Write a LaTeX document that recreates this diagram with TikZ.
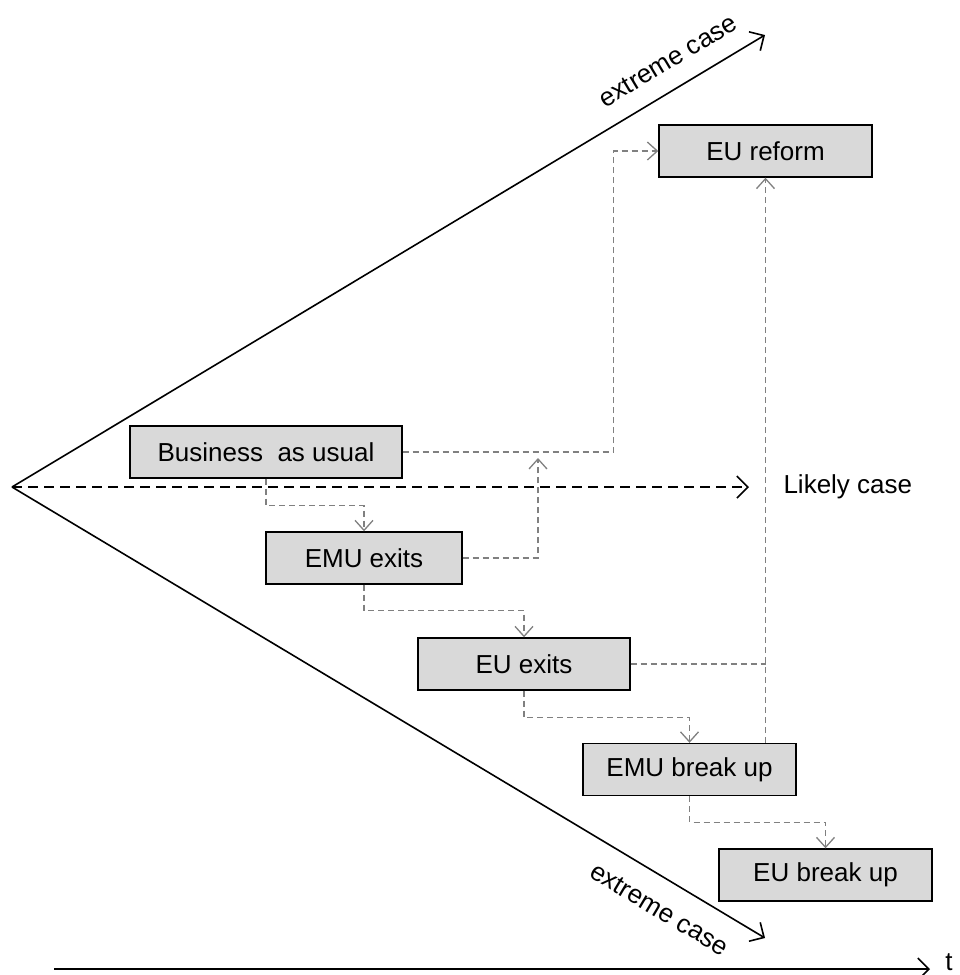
\documentclass[tikz,border=0pt]{standalone}
\usepackage{fontspec}
\setmainfont{Liberation Sans}
\usetikzlibrary{arrows.meta,calc}

\begin{document}
\begin{tikzpicture}[
  x=1pt,y=-1pt,
  font=\fontsize{26}{31}\selectfont,
  ray/.style={line width=1.6pt,-{Straight Barb[length=11pt,width=22pt,line width=1.6pt]}},
  likely/.style={ray,dash pattern=on 10pt off 6pt},
  link/.style={gray,line width=1.3pt,dash pattern=on 6pt off 4pt,-{Straight Barb[length=10pt,width=18pt,line width=1.3pt]}},
  linkplain/.style={gray,line width=1.3pt,dash pattern=on 6pt off 4pt},
  box/.style={rectangle,draw=black,line width=1.4pt,fill=black!15,minimum width=213pt,minimum height=52pt,inner sep=0pt}
]

\useasboundingbox (0,0) rectangle (959,975);

\coordinate (o) at (12,487);
\coordinate (up) at (765,35);
\coordinate (down) at (765,938);
\coordinate (lk) at (749,487);
\coordinate (join) at (538,458);
\coordinate (t0) at (54,969);
\coordinate (t1) at (930,969);

\node[box] (reform) at (765.5,151) {EU reform};
\node[box,minimum width=272pt] (bau) at (266,452) {Business\ \ as usual};
\node[box,minimum width=196pt] (emuexit) at (364,558) {EMU exits};
\node[box,minimum width=212pt] (euexit) at (524,664) {EU exits};
\node[box] (emubreak) at (689.5,769.5) {EMU break up};
\node[box] (eubreak) at (825.5,875) {EU break up};

\draw[ray] (o) -- (up) node[pos=0.89,above=15pt,sloped] {extreme case};
\draw[ray] (o) -- (down) node[pos=0.88,below=17pt,sloped] {extreme case};
\draw[likely] (o) -- (lk);
\node[anchor=west] (lklabel) at (780,487) {Likely case};
\draw[ray] (t0) -- (t1);
\node[inner sep=0pt] (tlabel) at (949,962) {t};

\draw[link] (bau.south) -- ++(0,27) -| (emuexit.north);
\draw[link] (emuexit.south) -- ++(0,26) -| (euexit.north);
\draw[link] (euexit.south) -- ++(0,27) -| (emubreak.north);
\draw[link] (emubreak.south) -- ++(0,26) -| (eubreak.north);
\draw[link] (bau.east) -- ++(211,0) |- (reform.west);
\draw[link] (emuexit.east) -| (join);
\draw[link] (emubreak.north -| reform.south) -- (reform.south);
\draw[linkplain] (euexit.east) -- (euexit.east -| reform.south);

\end{tikzpicture}
\end{document}
